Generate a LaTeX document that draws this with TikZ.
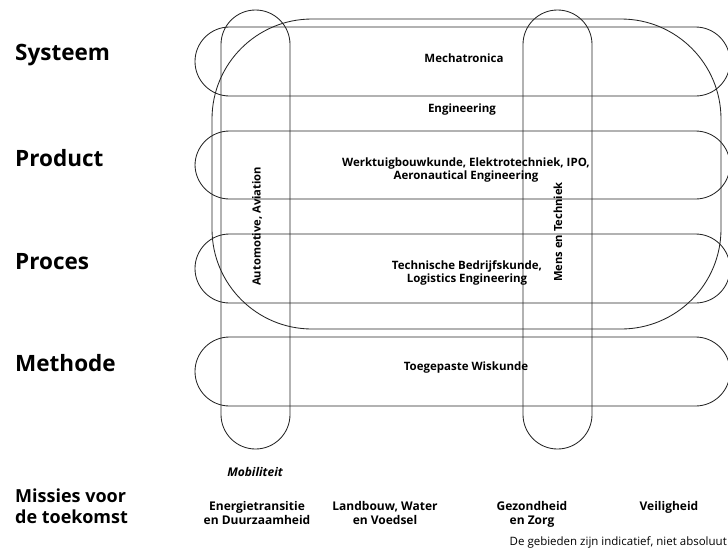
\documentclass[tikz,border=0pt]{standalone}
\usepackage{fontspec}
\setmainfont{Open Sans}
\begin{document}
\begin{tikzpicture}[x=1pt,y=-1pt,
  shape line/.style={draw=black!85, line width=0.85pt},
  rowbox/.style={shape line, rounded corners=34.5pt},
  colbox/.style={shape line, rounded corners=34.5pt},
  bigbox/.style={shape line, rounded corners=100pt},
  level/.style={font=\bfseries\fontsize{22.5}{26}\selectfont, anchor=west, inner sep=0pt},
  field/.style={font=\bfseries\fontsize{11.5}{13.5}\selectfont, align=center, inner sep=0pt},
  vfield/.style={font=\bfseries\fontsize{11.2}{13}\selectfont, rotate=90, anchor=west, inner sep=0pt},
  mission/.style={font=\bfseries\fontsize{12}{14}\selectfont, align=center, inner sep=0pt, anchor=north},
]
\useasboundingbox (0,0) rectangle (728,547);
% big engineering box
\draw[bigbox] (212,19) rectangle (721,329);
% rows
\draw[rowbox] (195,27) rectangle (730,96);
\draw[rowbox] (195,131) rectangle (730,199);
\draw[rowbox] (195,234) rectangle (730,303);
\draw[rowbox] (195,337) rectangle (730,406);
% columns
\draw[colbox] (221,10) rectangle (290,449);
\draw[colbox] (523,10) rectangle (592,449);
% level labels
\node[level] (sys) at (15,55) {Systeem};
\node[level] (prod) at (15,158) {Product};
\node[level] (proc) at (15,262) {Proces};
\node[level] (meth) at (15,363) {Methode};
\node[font=\bfseries\fontsize{18}{21}\selectfont, align=left, anchor=north west, inner sep=0pt] (miss) at (15,489) {Missies voor\\de toekomst};
% field labels
\node[field] (mech) at (464,58) {Mechatronica};
\node[field] (eng) at (462,110) {Engineering};
\node[field] (wtb) at (466,170) {Werktuigbouwkunde, Elektrotechniek, IPO,\\Aeronautical Engineering};
\node[field] (tbk) at (467,273) {Technische Bedrijfskunde,\\Logistics Engineering};
\node[field] (tw) at (466,368) {Toegepaste Wiskunde};
\node[vfield] (auto) at (257,286) {Automotive, Aviation};
\node[vfield] (mens) at (558,282) {Mens en Techniek};
% missions
\node[font=\bfseries\itshape\fontsize{12}{14}\selectfont, inner sep=0pt] (mob) at (255,472) {Mobiliteit};
\node[mission] (energ) at (257,501) {Energietransitie\\en Duurzaamheid};
\node[mission] (land) at (385,501) {Landbouw, Water\\en Voedsel};
\node[mission] (gez) at (532,501) {Gezondheid\\en Zorg};
\node[mission] (veil) at (669,501) {Veiligheid};
\node[font=\fontsize{11.5}{13}\selectfont, anchor=east, inner sep=0pt] (note) at (727,542) {De gebieden zijn indicatief, niet absoluut};
\end{tikzpicture}
\end{document}
